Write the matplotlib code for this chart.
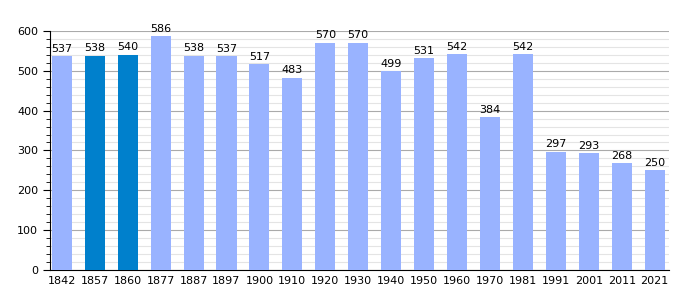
import matplotlib.pyplot as plt
from matplotlib.ticker import MultipleLocator

years = ["1842", "1857", "1860", "1877", "1887", "1897", "1900", "1910", "1920", "1930",
         "1940", "1950", "1960", "1970", "1981", "1991", "2001", "2011", "2021"]
population = [537, 538, 540, 586, 538, 537, 517, 483, 570, 570,
              499, 531, 542, 384, 542, 297, 293, 268, 250]
highlight = ["1857", "1860"]

colors = ["#0080cc" if y in highlight else "#99b3ff" for y in years]

fig = plt.figure(figsize=(7, 3), dpi=100)
ax = fig.add_axes([0.0714, 0.1, 0.885, 0.797])

x = range(len(years))
ax.bar(x, population, width=0.61, color=colors, zorder=3)
for xi, v in zip(x, population):
    ax.text(xi, v + 6, str(v), ha="center", va="bottom", fontsize=8, zorder=4)

ax.set_xlim(-0.36, len(years) - 0.55)
ax.set_ylim(0, 600)
ax.set_xticks(list(x))
ax.set_xticklabels(years, fontsize=8)
ax.yaxis.set_major_locator(MultipleLocator(100))
ax.yaxis.set_minor_locator(MultipleLocator(20))
ax.tick_params(axis="y", which="major", length=5, labelsize=8)
ax.tick_params(axis="y", which="minor", length=3)
ax.tick_params(axis="x", length=0, pad=4)
ax.grid(axis="y", which="major", color="#aaaaaa", linewidth=0.8, zorder=0)
ax.grid(axis="y", which="minor", color="#e4e4e4", linewidth=0.8, zorder=0)
for s in ["top", "right"]:
    ax.spines[s].set_visible(False)

plt.savefig("out.png")
